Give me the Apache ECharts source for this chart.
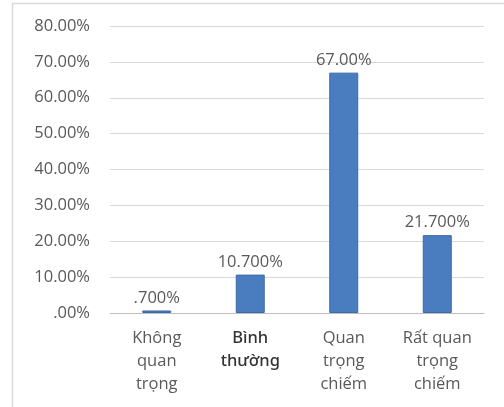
<!DOCTYPE html>
<html>
<head>
<meta charset="utf-8">
<style>
  html, body { margin: 0; padding: 0; background: #fff; }
  #chart { width: 504px; height: 407px; }
</style>
<script src="https://cdn.jsdelivr.net/npm/echarts@6/dist/echarts.min.js"></script>
</head>
<body>
<div id="chart"></div>
<script>
// Survey response shares by importance level
const categories = ['Không\nquan\ntrọng', 'Bình\nthường', 'Quan\ntrọng\nchiếm', 'Rất quan\ntrọng\nchiếm'];
const shares = [0.007, 0.107, 0.67, 0.217];
const shareLabels = ['.700%', '10.700%', '67.00%', '21.700%'];
const yMax = 0.8;
const yStep = 0.1;

const fontFamily = '"Open Sans", "Noto Sans", sans-serif';
const textColor = '#595959';
const fontSize = 16.5;

function percentTick(v) {
  const s = (v * 100).toFixed(2) + '%';
  return s.startsWith('0.') ? s.slice(1) : s;
}

const chart = echarts.init(document.getElementById('chart'), null, { renderer: 'canvas' });
chart.setOption({
  animation: false,
  backgroundColor: '#fff',
  graphic: [{
    type: 'rect',
    shape: { x: 12.5, y: 3.5, width: 520, height: 420 },
    style: { fill: null, stroke: '#d9d9d9', lineWidth: 1.5 },
    silent: true
  }],
  grid: { left: 110, right: 20, top: 26, bottom: 94 },
  xAxis: {
    type: 'category',
    data: categories,
    axisLine: { lineStyle: { color: '#bfbfbf' } },
    axisTick: { show: false },
    axisLabel: {
      interval: 0,
      margin: 14,
      color: textColor,
      fontFamily: fontFamily,
      fontSize: fontSize,
      lineHeight: 23,
      align: 'center',
      formatter: function (v, i) {
        return i === 1 ? '{b|' + v.split('\n').join('}\n{b|') + '}' : v;
      },
      rich: {
        b: { color: '#333', fontFamily: '"Noto Sans", sans-serif', fontWeight: 500, fontSize: fontSize, lineHeight: 23 }
      }
    }
  },
  yAxis: {
    type: 'value',
    min: 0,
    max: yMax,
    interval: yStep,
    axisLine: { show: false },
    axisTick: { show: false },
    splitLine: { lineStyle: { color: '#d9d9d9', width: 1 } },
    axisLabel: {
      color: textColor,
      fontFamily: fontFamily,
      fontSize: fontSize,
      margin: 20,
      formatter: percentTick
    }
  },
  series: [{
    type: 'bar',
    data: shares,
    barWidth: 29,
    itemStyle: { color: '#4a7cc0', borderColor: '#3d68a6', borderWidth: 1 },
    label: {
      show: true,
      position: 'top',
      distance: 4,
      color: textColor,
      fontFamily: fontFamily,
      fontSize: fontSize,
      formatter: function (p) { return shareLabels[p.dataIndex]; }
    }
  }]
});
</script>
</body>
</html>
